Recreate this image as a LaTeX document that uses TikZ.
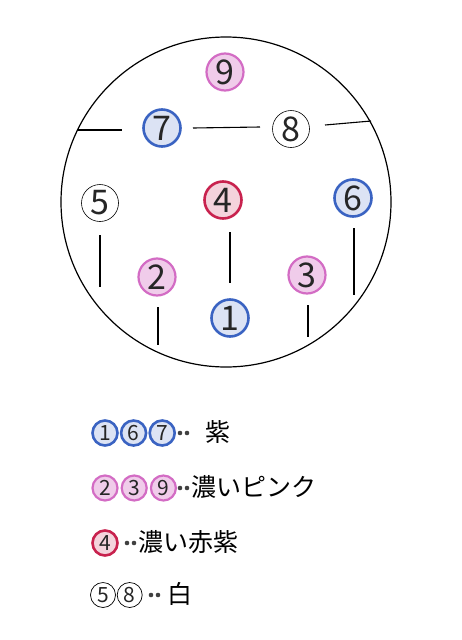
\documentclass[tikz,border=0pt]{standalone}
\usepackage{fontspec}
\setmainfont{Noto Sans CJK JP}
\usetikzlibrary{chains,scopes}

\definecolor{murasaki}{HTML}{3A63C2}
\definecolor{pinku}{HTML}{D36CC4}
\definecolor{akamurasaki}{HTML}{C8224E}

\begin{document}
\begin{tikzpicture}[x=1pt,y=-1pt,
    pinno/.style={circle, inner sep=0pt, minimum size=37pt, draw=black, line width=0.6pt,
        font=\fontsize{34}{34}\selectfont, text=black!85},
    ao/.style={draw=murasaki, line width=2.6pt, fill=murasaki!18},
    momo/.style={draw=pinku, line width=2.2pt, fill=pinku!35},
    aka/.style={draw=akamurasaki, line width=2.6pt, fill=akamurasaki!20},
    legendno/.style={minimum size=25pt, font=\fontsize{21}{21}\selectfont},
    ten/.style={fill=black!75},
    wire/.style={line width=1.1pt},
    every join/.style={draw=none}
    ]
    \useasboundingbox (0,0) rectangle (462,640);
    % housing
    \draw[line width=1.2pt] (226,202) circle (165pt);
    % pins
    \node[pinno, momo] (p9) at (225,72) {9};
    \node[pinno, ao] (p7) at (162,128) {7};
    \node[pinno] (p8) at (291,129) {8};
    \node[pinno] (p5) at (100,203) {5};
    \node[pinno, aka] (p4) at (223,200) {4};
    \node[pinno, ao] (p6) at (353,198) {6};
    \node[pinno, momo] (p2) at (157,277) {2};
    \node[pinno, momo] (p3) at (307,275) {3};
    \node[pinno, ao] (p1) at (230,318) {1};
    % ribs
    \draw[wire] (77,130) -- (122,130);
    \draw[wire] (193,128) -- (260,127);
    \draw[wire] (325,125) -- (371,121);
    \draw[wire] (100,235) -- (100,287);
    \draw[wire] (230,232) -- (230,283);
    \draw[wire] (354,228) -- (354,295);
    \draw[wire] (158,307) -- (158,345);
    \draw[wire] (308,305) -- (308,337);
    % legend
    { [start chain=r1 going right, node distance=1pt]
        \node[on chain, pinno, legendno, ao] (a1) at (105,433) {1};
        \node[on chain, pinno, legendno, ao] (a6) {6};
        \node[on chain, pinno, legendno, ao] (a7) {7};
    }
    \fill[ten] (180,433) circle (2.3pt) (187,433) circle (2.3pt);
    \node[anchor=west, inner sep=0pt, font=\fontsize{25}{25}\selectfont] (t1) at (205,432) {紫};
    { [start chain=r2 going right, node distance=2pt]
        \node[on chain, pinno, legendno, momo] (b2) at (105,488) {2};
        \node[on chain, pinno, legendno, momo] (b3) {3};
        \node[on chain, pinno, legendno, momo] (b9) {9};
    }
    \fill[ten] (180,488) circle (2.3pt) (187,488) circle (2.3pt);
    \node[anchor=west, inner sep=0pt, font=\fontsize{25}{25}\selectfont] (t2) at (191,487) {濃いピンク};
    { [start chain=r3 going right]
        \node[on chain, pinno, legendno, aka] (c4) at (105,543) {4};
    }
    \fill[ten] (127,543) circle (2.3pt) (134,543) circle (2.3pt);
    \node[anchor=west, inner sep=0pt, font=\fontsize{25}{25}\selectfont] (t3) at (138,542) {濃い赤紫};
    { [start chain=r4 going right, node distance=1pt]
        \node[on chain, pinno, legendno, line width=0.7pt] (d5) at (103,595) {5};
        \node[on chain, pinno, legendno, line width=0.7pt] (d8) {8};
    }
    \fill[ten] (151,595) circle (2.3pt) (158,595) circle (2.3pt);
    \node[anchor=west, inner sep=0pt, font=\fontsize{25}{25}\selectfont] (t4) at (167,594) {白};
\end{tikzpicture}
\end{document}
